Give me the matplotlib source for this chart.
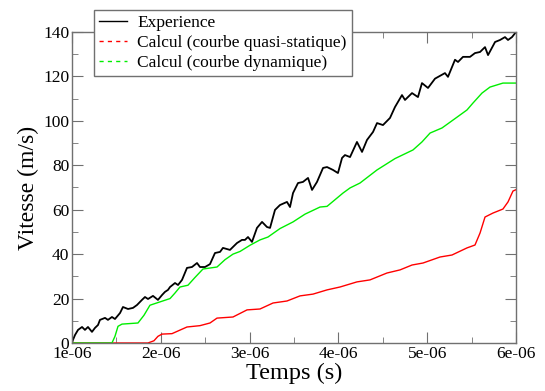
import numpy as np
import matplotlib
matplotlib.use("Agg")
import matplotlib.pyplot as plt
from matplotlib.lines import Line2D
from matplotlib.ticker import MultipleLocator

plt.rcParams['font.family'] = ['Liberation Serif', 'DejaVu Serif']

# temps en microsecondes, vitesse en m/s
t_exp = [1.000, 1.011, 1.034, 1.068, 1.113, 1.146, 1.180, 1.225, 1.259, 1.293,
         1.315, 1.372, 1.405, 1.450, 1.484, 1.541, 1.574, 1.631, 1.687, 1.732,
         1.788, 1.822, 1.856, 1.912, 1.968, 2.014, 2.047, 2.081, 2.104, 2.160,
         2.194, 2.239, 2.295, 2.351, 2.408, 2.441, 2.498, 2.554, 2.610, 2.667,
         2.700, 2.779, 2.858, 2.914, 2.948, 2.982, 3.027, 3.083, 3.140, 3.196,
         3.230, 3.286, 3.342, 3.421, 3.455, 3.489, 3.545, 3.601, 3.658, 3.703,
         3.759, 3.827, 3.872, 3.939, 3.995, 4.041, 4.074, 4.131, 4.209, 4.266,
         4.322, 4.390, 4.435, 4.502, 4.581, 4.637, 4.716, 4.750, 4.829, 4.896,
         4.941, 5.009, 5.088, 5.200, 5.234, 5.313, 5.347, 5.403, 5.482, 5.538,
         5.595, 5.651, 5.685, 5.764, 5.820, 5.876, 5.910, 5.955, 6.000]
v_exp = [0.0, 1.4, 3.6, 5.9, 7.2, 5.9, 7.2, 5.0, 6.8, 8.1,
         10.4, 11.3, 10.4, 11.7, 10.8, 13.5, 16.2, 15.3, 15.8, 17.1,
         19.4, 20.7, 19.8, 21.2, 19.4, 21.6, 23.0, 23.9, 25.2, 27.0,
         26.1, 28.4, 33.8, 34.2, 36.0, 34.2, 34.2, 35.5, 40.5, 41.0,
         42.8, 41.9, 45.0, 46.4, 46.4, 47.7, 45.5, 51.8, 54.5, 52.2,
         51.8, 59.9, 62.1, 63.5, 61.2, 67.5, 72.0, 72.5, 74.3, 68.9,
         72.5, 78.8, 79.2, 77.9, 76.5, 83.3, 84.6, 83.7, 90.5, 86.0,
         91.4, 95.0, 99.0, 98.1, 101.3, 106.2, 111.6, 109.4, 112.5, 110.7,
         117.0, 114.8, 119.0, 121.5, 119.8, 127.5, 126.5, 128.8, 128.8, 130.5,
         131.0, 133.2, 129.6, 135.5, 136.4, 137.7, 136.4, 137.7, 140.0]

t_dyn = [1.000, 1.450, 1.484, 1.518, 1.563, 1.743, 1.811, 1.878, 1.991, 2.104,
         2.160, 2.216, 2.306, 2.385, 2.475, 2.633, 2.723, 2.813, 2.892, 3.005,
         3.117, 3.207, 3.342, 3.489, 3.624, 3.793, 3.872, 3.962, 4.052, 4.131,
         4.243, 4.435, 4.637, 4.840, 4.941, 5.032, 5.167, 5.313, 5.448, 5.515,
         5.617, 5.707, 5.853, 6.000]
v_dyn = [0.0, 0.0, 3.0, 7.5, 8.5, 9.0, 12.5, 17.0, 18.5, 20.0,
         22.5, 25.2, 26.0, 29.5, 33.3, 34.2, 37.5, 40.0, 41.2, 44.0,
         46.4, 47.7, 51.5, 54.5, 58.0, 61.2, 61.5, 64.5, 67.5, 69.8,
         72.0, 77.9, 83.0, 86.9, 90.5, 94.5, 96.8, 101.0, 104.9, 108.0,
         112.5, 115.2, 117.0, 117.0]

t_qs = [1.000, 1.856, 1.923, 1.968, 2.014, 2.126, 2.216, 2.295, 2.441, 2.554,
        2.633, 2.813, 2.971, 3.117, 3.264, 3.421, 3.568, 3.714, 3.872, 4.018,
        4.209, 4.356, 4.547, 4.694, 4.829, 4.953, 5.144, 5.279, 5.448, 5.538,
        5.595, 5.651, 5.741, 5.853, 5.910, 5.966, 6.000]
v_qs = [0.0, 0.0, 1.0, 3.0, 4.0, 4.2, 5.8, 7.2, 7.8, 9.0,
        11.2, 11.7, 14.9, 15.3, 18.0, 18.9, 21.2, 22.0, 23.9, 25.2,
        27.5, 28.4, 31.5, 32.9, 35.1, 36.0, 38.7, 39.6, 42.8, 44.1,
        49.5, 56.7, 58.5, 60.3, 63.5, 68.4, 69.0]

xticks = [1e-6, 2e-6, 3e-6, 4e-6, 5e-6, 6e-6]
xtick_labels = ["1e-06", "2e-06", "3e-06", "4e-06", "5e-06", "6e-06"]
yticks = [0, 20, 40, 60, 80, 100, 120, 140]

GRAY = "#707070"

fig = plt.figure(figsize=(5.45, 3.91), dpi=100)
ax = fig.add_axes([0.1321, 0.1228, 0.8147, 0.7954])

ax.plot(np.array(t_exp) * 1e-6, v_exp, color="black", lw=1.3)
ax.plot(np.array(t_qs) * 1e-6, v_qs, color="#ff0000", lw=1.0)
ax.plot(np.array(t_dyn) * 1e-6, v_dyn, color="#00ee00", lw=1.0)

ax.set_xlim(1e-6, 6e-6)
ax.set_ylim(0, 140)
ax.set_xticks(xticks)
ax.set_xticklabels(xtick_labels)
ax.set_yticks(yticks)
ax.xaxis.set_minor_locator(MultipleLocator(0.5e-6))
ax.yaxis.set_minor_locator(MultipleLocator(10))
ax.tick_params(which="both", direction="in", top=True, right=True,
               color=GRAY, labelsize=12.5, pad=2)
ax.tick_params(which="major", length=8)
ax.tick_params(which="minor", length=4)
for s in ax.spines.values():
    s.set_color(GRAY)
    s.set_linewidth(1.0)

ax.set_xlabel("Temps (s)", fontsize=17.5, labelpad=1)
ax.set_ylabel("Vitesse (m/s)", fontsize=17, labelpad=3)

handles = [Line2D([], [], color="black", lw=1.0),
           Line2D([], [], color="#ff0000", lw=1.0, ls=(0, (3, 3))),
           Line2D([], [], color="#00ee00", lw=1.0, ls=(0, (3, 3)))]
labels = ["Experience", "Calcul (courbe quasi-statique)", "Calcul (courbe dynamique)"]
leg = fig.legend(handles, labels, loc="upper left",
                 bbox_to_anchor=(0.1725, 0.9744), bbox_transform=fig.transFigure,
                 borderaxespad=0, fancybox=False, fontsize=12.5,
                 handlelength=1.6, handletextpad=0.6, labelspacing=0.2,
                 borderpad=0.3, framealpha=1)
leg.get_frame().set_edgecolor(GRAY)
leg.get_frame().set_linewidth(1.0)

fig.savefig("out.png", dpi=100)
